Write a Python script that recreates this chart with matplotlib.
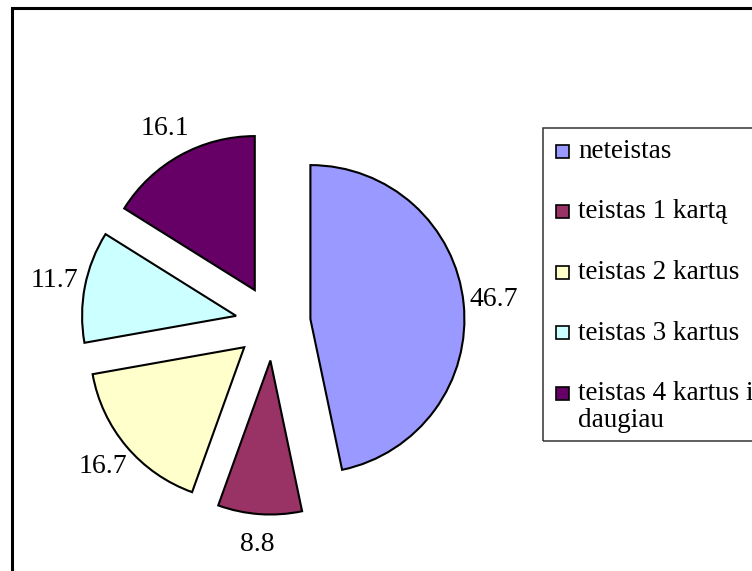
import matplotlib
matplotlib.use("Agg")
import matplotlib.pyplot as plt
from matplotlib.patches import Rectangle

plt.rcParams['font.family'] = ['Liberation Serif', 'DejaVu Serif']

# data
categories = ['neteistas', 'teistas 1 kartą', 'teistas 2 kartus',
              'teistas 3 kartus', 'teistas 4 kartus ir\ndaugiau']
values = [46.7, 8.8, 16.7, 11.7, 16.1]
colors = ['#9999FF', '#993366', '#FFFFCC', '#CCFFFF', '#660066']

W, H = 752, 571
fig = plt.figure(figsize=(W / 100, H / 100), dpi=100)
ax = fig.add_axes([0, 0, 1, 1])

# axes work in pixel units, y measured upward
cx, cy, r = 273, H - 323, 154
wedges, texts = ax.pie(values, colors=colors, labels=[f'{v:.1f}' for v in values],
                       startangle=90, counterclock=False, center=(cx, cy), radius=r,
                       explode=[37.6] * len(values), labeldistance=1.2,
                       wedgeprops=dict(edgecolor='black', linewidth=1.5),
                       textprops=dict(fontsize=20, ha='center', va='center'))
ax.set_xlim(0, W)
ax.set_ylim(0, H)
ax.axis('off')

# chart frame (runs off the right and bottom edges)
ax.add_patch(Rectangle((12, -20), W + 40, H - 8 + 20, fill=False,
                       edgecolor='black', linewidth=2.2, clip_on=False))

# legend drawn by hand so the wrapped label aligns like the original
lx, ltop, lbot = 543, 128, 441
ax.add_patch(Rectangle((lx, H - lbot), 300, lbot - ltop, fill=False,
                       edgecolor='#333333', linewidth=1.1, clip_on=False))
for i, (cat, col) in enumerate(zip(categories, colors)):
    yc = 151 + 60.5 * i
    ax.add_patch(Rectangle((556, H - yc - 6.5), 13, 13, facecolor=col,
                           edgecolor='black', linewidth=1.2))
    ax.text(578, H - yc + 12, cat, fontsize=19.5, ha='left', va='top',
            linespacing=1.1)

fig.savefig('out.png', dpi=100)
